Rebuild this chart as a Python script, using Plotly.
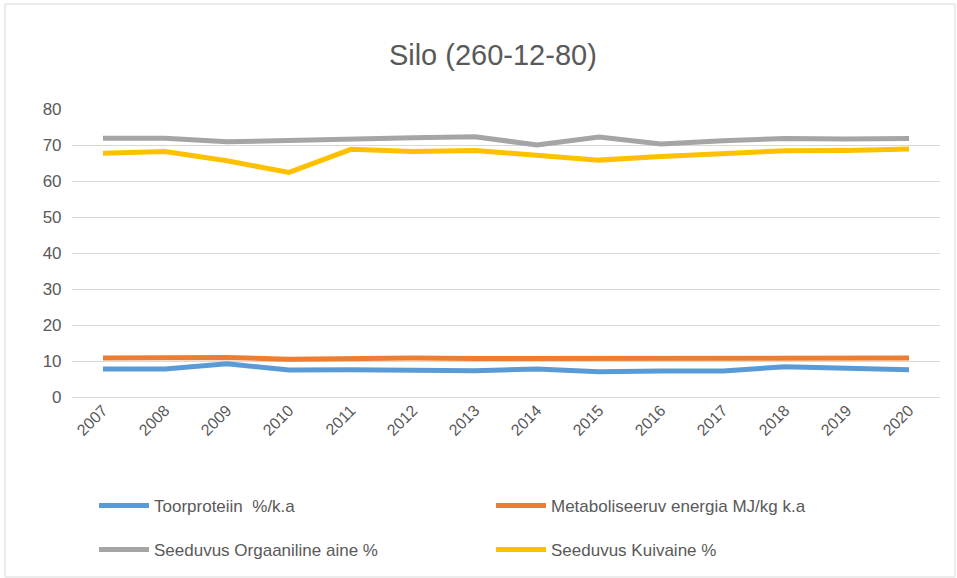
import plotly.graph_objects as go

years = ["2007", "2008", "2009", "2010", "2011", "2012", "2013", "2014",
         "2015", "2016", "2017", "2018", "2019", "2020"]
toorproteiin = [7.8, 7.8, 9.2, 7.5, 7.6, 7.6, 7.3, 7.8, 7.0, 7.2, 7.2, 8.4, 8.0, 7.6]
metaboliseeruv = [10.8, 10.8, 11.0, 10.5, 10.8, 10.8, 10.7, 10.7, 10.6, 10.7, 10.7, 10.8, 10.8, 10.8]
orgaaniline = [71.9, 71.9, 70.9, 71.3, 71.9, 72.0, 72.3, 70.0, 72.2, 70.3, 71.2, 71.8, 71.7, 71.8]
kuivaine = [67.7, 68.2, 65.6, 62.4, 68.8, 68.2, 68.5, 67.2, 65.8, 66.8, 67.7, 68.4, 68.5, 68.9]

series = [
    ("Toorproteiin  %/k.a", toorproteiin, "#5b9bd5", "legend"),
    ("Metaboliseeruv energia MJ/kg k.a", metaboliseeruv, "#ed7d31", "legend"),
    ("Seeduvus Orgaaniline aine %", orgaaniline, "#a5a5a5", "legend2"),
    ("Seeduvus Kuivaine %", kuivaine, "#ffc000", "legend2"),
]

fig = go.Figure()
for name, vals, col, lg in series:
    fig.add_trace(go.Scatter(x=years, y=vals, name=name, mode="lines", legend=lg,
                             line=dict(color=col, width=5)))

W, H = 957, 578
L, R, T, B = 72, 17, 109, 181
pw, ph = W - L - R, H - T - B


def py(pix):
    return (T + ph - pix) / ph


leg_common = dict(orientation="h", x=(94 - L) / pw, xanchor="left",
                  yanchor="middle", entrywidth=332, entrywidthmode="pixels",
                  itemwidth=50, font=dict(size=17, color="#595959"),
                  bgcolor="rgba(0,0,0,0)")

fig.update_layout(
    width=W, height=H,
    margin=dict(l=L, r=R, t=T, b=B, autoexpand=False),
    paper_bgcolor="white", plot_bgcolor="white",
    font=dict(family="Liberation Sans, Arial, sans-serif", color="#595959", size=16),
    title=dict(text="Silo (260-12-80)", x=0.515, xanchor="center", y=1 - 55 / H,
               yanchor="middle", font=dict(size=29, color="#595959")),
    showlegend=True,
    legend=dict(y=py(506), **leg_common),
    legend2=dict(y=py(550), **leg_common),
    xaxis=dict(type="category", range=[-0.5, 13.5], tickangle=-45,
               showgrid=False, showline=False, ticks="",
               tickfont=dict(size=16, color="#595959")),
    yaxis=dict(range=[0, 80], dtick=10, showgrid=True, gridcolor="#d9d9d9",
               gridwidth=1, zeroline=True, zerolinecolor="#d9d9d9",
               zerolinewidth=1, ticks="", tickfont=dict(size=17, color="#595959"),
               ticksuffix="  "),
    shapes=[dict(type="rect", xref="paper", yref="paper",
                 x0=(5 - L) / pw, x1=(W - 2 - L) / pw,
                 y0=py(H - 1), y1=py(4),
                 line=dict(color="#d9d9d9", width=1))],
)

fig.write_html("out.html", config={"displayModeBar": False},
               post_script="document.body.style.margin='0';")
